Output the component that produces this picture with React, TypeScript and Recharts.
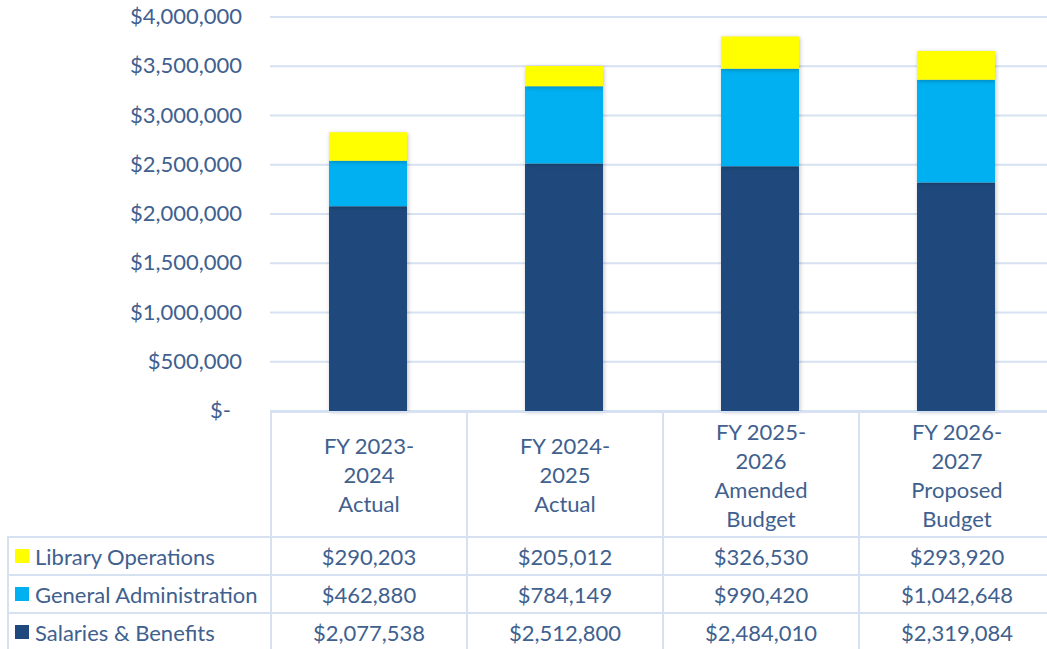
import React from 'react';
import { BarChart, Bar, XAxis, YAxis, CartesianGrid } from 'recharts';

const categories = [
  ['FY 2023-', '2024', 'Actual'],
  ['FY 2024-', '2025', 'Actual'],
  ['FY 2025-', '2026', 'Amended', 'Budget'],
  ['FY 2026-', '2027', 'Proposed', 'Budget'],
];
const salaries = [2077538, 2512800, 2484010, 2319084];
const generalAdmin = [462880, 784149, 990420, 1042648];
const libraryOps = [290203, 205012, 326530, 293920];
const yTicks = [0, 500000, 1000000, 1500000, 2000000, 2500000, 3000000, 3500000, 4000000];

const TEXT = '#40608E';
const GRID = '#D6E1F2';
const FONT = 'Lato, "Noto Sans", sans-serif';
const FS = 22;

const series = [
  { key: 'library', name: 'Library Operations', color: '#FFFF00', values: libraryOps },
  { key: 'admin', name: 'General Administration', color: '#00B0F0', values: generalAdmin },
  { key: 'salaries', name: 'Salaries & Benefits', color: '#1F497D', values: salaries },
];

const data = categories.map((lines, i) => ({
  category: lines.join(' '),
  salaries: salaries[i],
  admin: generalAdmin[i],
  library: libraryOps[i],
}));

const money = (v: number) => '$' + v.toLocaleString('en-US');

const YTick = ({ x, y, payload }: any) => {
  const v = payload.value;
  return (
    <text x={v === 0 ? x - 11 : x} y={y} dy={7} textAnchor="end" fill={TEXT} fontSize={FS} fontFamily={FONT}>
      {v === 0 ? '$-' : money(v)}
    </text>
  );
};

const COL0 = 263;
const COL = 196;
const border = `2px solid ${GRID}`;

const DataTable = () => {
  const cell: React.CSSProperties = {
    boxSizing: 'border-box',
    borderLeft: border,
    borderTop: border,
    display: 'flex',
    alignItems: 'center',
    justifyContent: 'center',
    height: 38,
    whiteSpace: 'nowrap',
  };
  return (
    <div
      style={{
        position: 'absolute',
        left: 7,
        top: 411,
        display: 'grid',
        gridTemplateColumns: `${COL0}px repeat(4, ${COL}px)`,
        gridTemplateRows: '125px 38px 38px 38px',
        color: TEXT,
        fontFamily: FONT,
        fontSize: FS,
      }}
    >
      <div />
      {categories.map((lines, i) => (
        <div key={i} style={{ ...cell, height: 125, flexDirection: 'column', lineHeight: '29px', textAlign: 'center' }}>
          {lines.map((l, j) => (
            <div key={j}>{l}</div>
          ))}
        </div>
      ))}
      {series.map((s) => (
        <React.Fragment key={s.key}>
          <div style={{ ...cell, justifyContent: 'flex-start', paddingLeft: 6 }}>
            <span style={{ display: 'inline-block', flex: 'none', width: 14, height: 14, background: s.color, marginRight: 6 }} />
            {s.name}
          </div>
          {s.values.map((v, i) => (
            <div key={i} style={cell}>
              {money(v)}
            </div>
          ))}
        </React.Fragment>
      ))}
    </div>
  );
};

const shadow = { filter: 'drop-shadow(1px 1px 2px rgba(0,0,0,0.25))' };

export default function App() {
  return (
    <div style={{ position: 'absolute', left: 0, top: 0, width: 1047, height: 649, overflow: 'hidden', background: '#fff' }}>
      <BarChart width={1060} height={432} data={data} margin={{ top: 17, right: 6, bottom: 21, left: 0 }}>
        <CartesianGrid vertical={false} stroke={GRID} strokeWidth={2} />
        <XAxis dataKey="category" hide />
        <YAxis
          width={270}
          domain={[0, 4000000]}
          ticks={yTicks}
          interval={0}
          axisLine={false}
          tickLine={false}
          tickSize={0}
          tickMargin={28}
          tick={<YTick />}
        />
        <Bar dataKey="salaries" stackId="a" fill="#1F497D" barSize={78} isAnimationActive={false} style={shadow} />
        <Bar dataKey="admin" stackId="a" fill="#00B0F0" barSize={78} isAnimationActive={false} style={shadow} />
        <Bar dataKey="library" stackId="a" fill="#FFFF00" barSize={78} isAnimationActive={false} style={shadow} />
      </BarChart>
      <DataTable />
    </div>
  );
}
